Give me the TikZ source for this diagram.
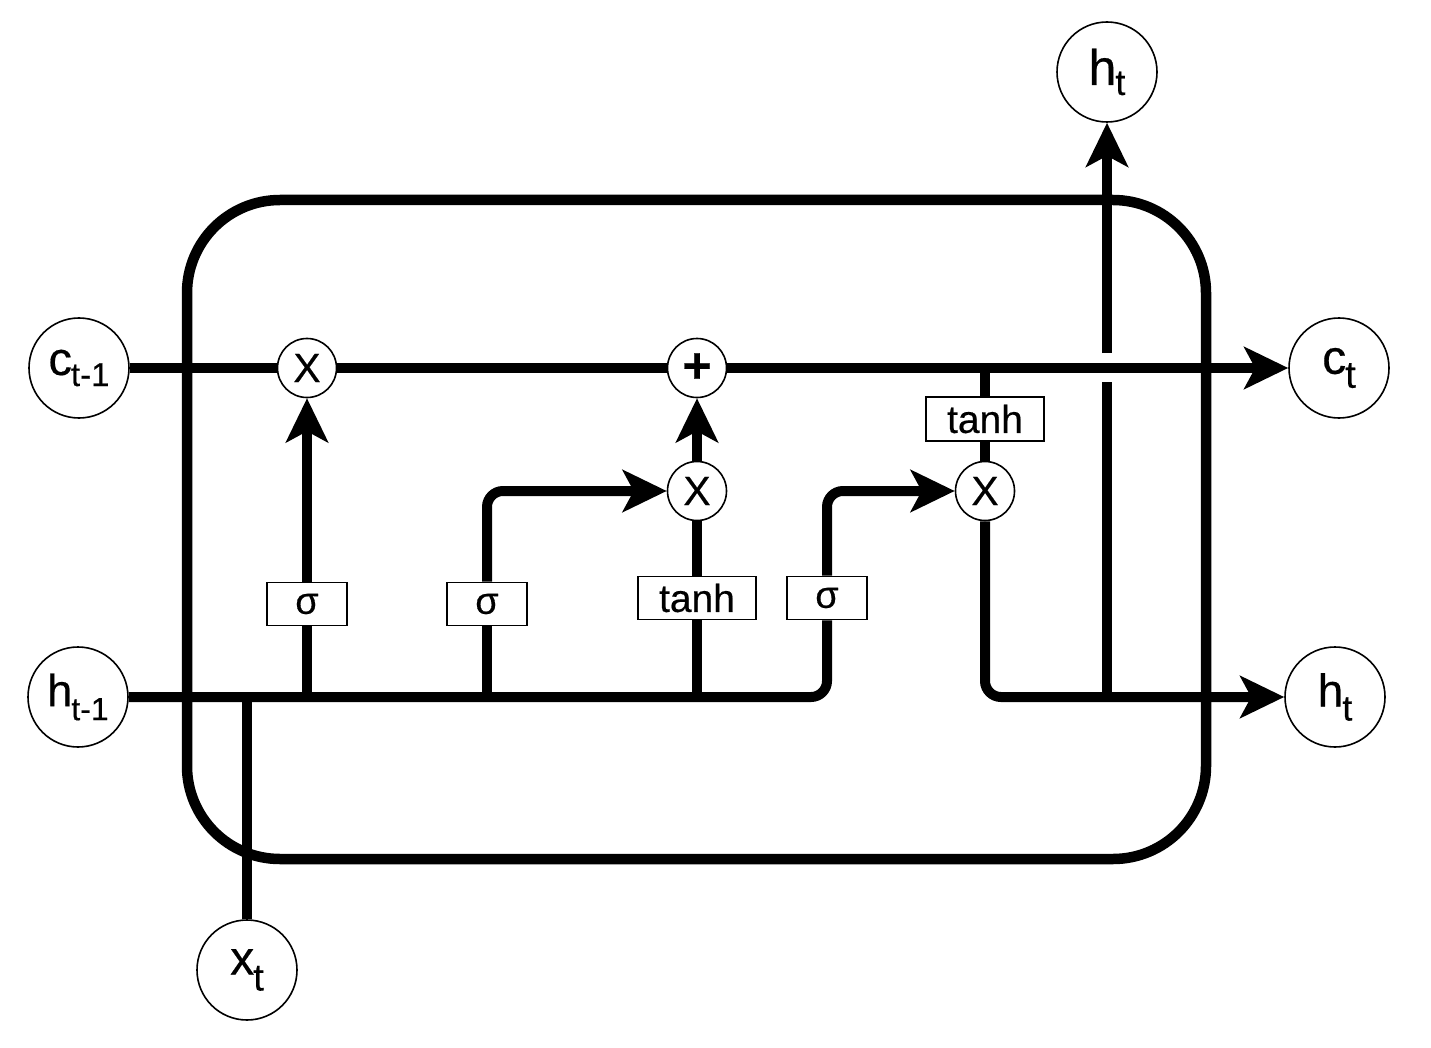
\documentclass[tikz,border=0pt]{standalone}
\usepackage{fontspec}
\setmainfont{Liberation Sans}[FakeBold=0.4]
\usetikzlibrary{arrows.meta}
% #1 main size, #2 sub size, #3 sub drop, #4 main, #5 sub
\newcommand{\lbl}[5]{\fontsize{#1}{#1}\selectfont #4\kern-1pt\raisebox{-#3}{\fontsize{#2}{#2}\selectfont #5}}
\tikzset{
  io/.style={circle,draw,line width=1.6pt,fill=white,minimum size=100pt,inner sep=0pt},
  op/.style={circle,draw,line width=1.6pt,fill=white,minimum size=59pt,inner sep=0pt,font=\fontsize{41}{41}\selectfont},
  gate/.style={rectangle,draw,line width=1.6pt,fill=white,minimum width=80pt,minimum height=43pt,inner sep=0pt,font=\fontsize{38}{38}\selectfont},
  tgate/.style={gate,minimum width=118pt,font=\fontsize{39}{39}\selectfont},
  wire/.style={line width=10pt},
  arr/.style={wire,-{Stealth[length=44pt,width=42pt,inset=11pt]}},
}
\begin{document}
\begin{tikzpicture}[x=1pt,y=-1pt]
\useasboundingbox (0,0) rectangle (1431,1048);
% cell outline
\draw[line width=10.5pt,rounded corners=93pt] (187,200) rectangle (1206,859);
% nodes
\node[io] (ctm1) at (79,368) {\lbl{47}{33}{11pt}{c}{t-1}};
\node[io] (htm1) at (78,697) {\lbl{45}{32}{14pt}{h}{t-1}};
\node[io] (ct) at (1339,368) {\lbl{48}{38}{14pt}{c}{t}};
\node[io] (htr) at (1335,697) {\lbl{46}{36}{14pt}{h}{t}};
\node[io] (httop) at (1107,72) {\lbl{50}{36}{10pt}{h}{t}};
\node[io] (xt) at (247,970) {\lbl{48}{38}{16pt}{x}{t}};
\node[op] (x1) at (307,368) {X};
\node[op,font=\fontsize{50}{50}\selectfont\bfseries] (plus) at (697,368) {+};
\node[op] (x2) at (697,491) {X};
\node[op] (x3) at (985,491) {X};
\node[gate] (s1) at (307,604) {σ};
\node[gate] (s2) at (487,604) {σ};
\node[tgate] (th1) at (697,598) {tanh};
\node[gate] (s3) at (827,598) {σ};
\node[tgate,minimum height=44pt] (th2) at (985,419) {tanh};
% junction coordinates
\coordinate (j1) at (307,697);
\coordinate (j2) at (487,697);
\coordinate (j3) at (697,697);
\coordinate (jx) at (247,697);
\coordinate (jc) at (985,368);
\coordinate (jh) at (1107,697);
\coordinate (gapb) at (1107,382);
\coordinate (gapt) at (1107,353);
% cell state line
\draw[wire] (ctm1) -- (x1);
\draw[wire] (x1) -- (plus);
\draw[arr] (plus) -- (ct);
\draw[wire] (jc) -- (th2.north);
\draw[wire] (th2.south) -- (x3.north);
% hidden line and gates
\draw[wire,rounded corners=16pt] (htm1.east) -- (827,697) -- (s3.south);
\draw[arr,rounded corners=16pt] (s3.north) -- (827,491) -- (x3.west);
\draw[wire] (j1) -- (s1.south);
\draw[arr] (s1.north) -- (x1.south);
\draw[wire] (j2) -- (s2.south);
\draw[arr,rounded corners=16pt] (s2.north) |- (x2.west);
\draw[wire] (j3) -- (th1.south);
\draw[wire] (th1.north) -- (x2.south);
\draw[arr] (x2.north) -- (plus.south);
\draw[arr,rounded corners=16pt] (x3.south) -- (985,697) -- (htr.west);
\draw[wire] (jh) -- (gapb);
\draw[arr] (gapt) -- (httop.south);
\draw[wire] (xt.north) -- (jx);
\end{tikzpicture}
\end{document}
